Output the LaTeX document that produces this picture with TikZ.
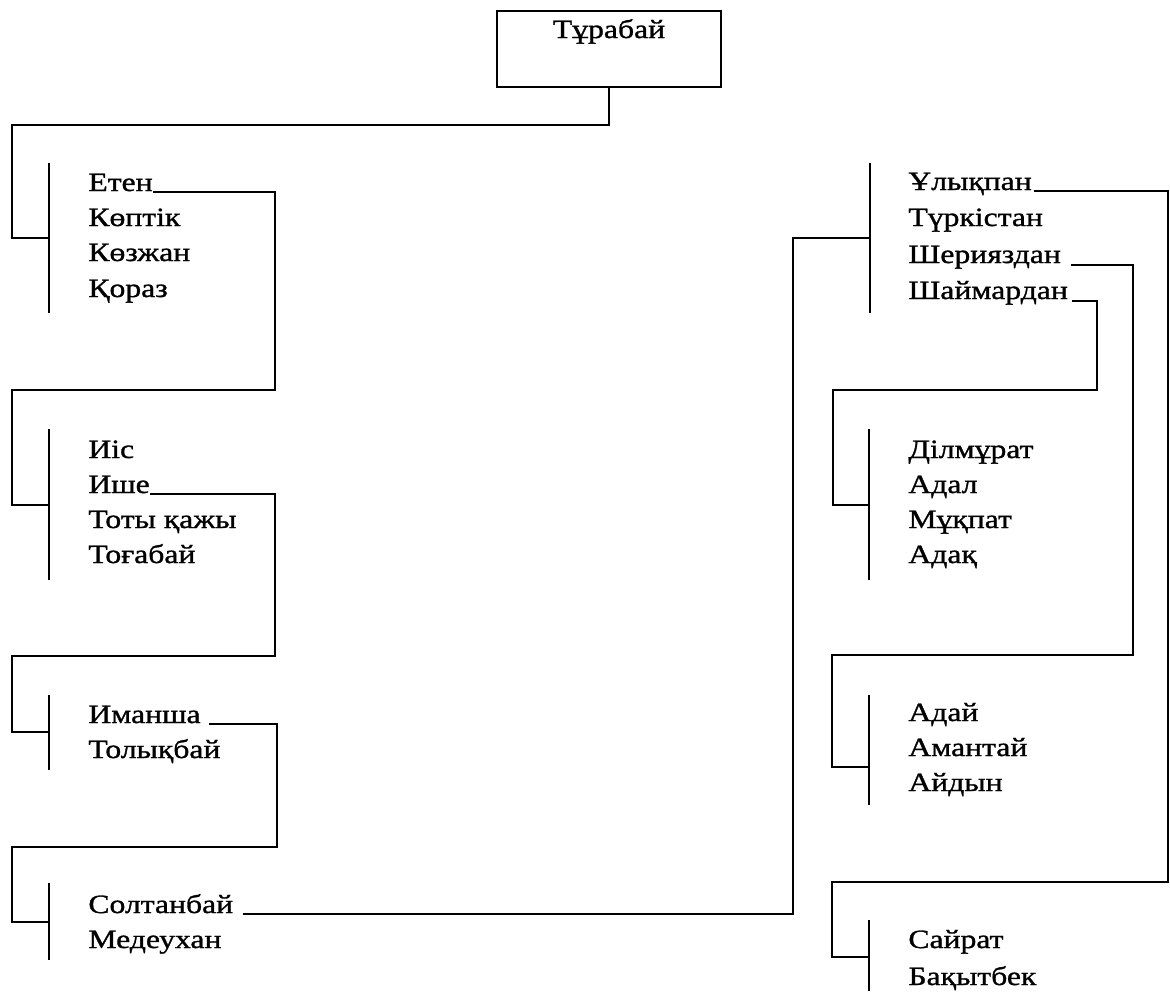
\documentclass[tikz,border=0pt]{standalone}
\usepackage{fontspec}
\setmainfont{Liberation Serif}[FakeStretch=1.2,FakeBold=1.1]
\newcommand{\namefont}{\fontsize{13.2pt}{15pt}\selectfont}
\begin{document}
\begin{tikzpicture}[x=0.5pt,y=-0.5pt,
  person/.style={anchor=base west, inner sep=0pt, font=\namefont},
  rootbox/.style={draw, line width=1.2pt, inner sep=0pt, anchor=base, text height=13.5pt, text depth=24.5pt, minimum width=112pt, font=\namefont},
  link/.style={line width=1.3pt, line join=miter},
  brace/.style={line width=1pt}]
\useasboundingbox (0,0) rectangle (1170,991);

% root
\node[rootbox] (root) at (609,38) {Тұрабай};

% bracket coordinates
\foreach \n/\x/\t/\b/\j in {b1/49/163/313/238, b2/49/429/580/505, b3/49/695/770/732, b4/49/883/960/922,
                            b5/870/163/313/238, b6/869/429/580/505, b7/869/695/805/767, b8/869/920/991/957} {
  \coordinate (\n t) at (\x,\t);
  \coordinate (\n b) at (\x,\b);
  \coordinate (\n j) at (\x,\j);
}
\foreach \n in {b1,b2,b3,b4,b5,b6,b7,b8} { \draw[brace] (\n t) -- (\n b); }

% left names
\node[person] (eten)   at (88,191) {Етен};
\node[person] (koptik) at (88,226) {Көптік};
\node[person] (kozhan) at (88,261) {Көзжан};
\node[person] (koraz)  at (88,297) {Қораз};

\node[person] (iis)    at (88,458) {Иіс};
\node[person] (ishe)   at (88,493) {Ише};
\node[person] (toty)   at (88,528) {Тоты қажы};
\node[person] (togabai) at (88,563) {Тоғабай};

\node[person] (imansha) at (88,723) {Иманша};
\node[person] (tolyk)   at (88,758) {Толықбай};

\node[person] (soltan)  at (88,913) {Солтанбай};
\node[person] (medeu)   at (88,948) {Медеухан};

% right names
\node[person] (ulyk)    at (908,190) {Ұлықпан};
\node[person] (turk)    at (908,226) {Түркістан};
\node[person] (sheri)   at (908,263) {Шерияздан};
\node[person] (shaim)   at (908,299) {Шаймардан};

\node[person] (dilm)    at (908,458) {Ділмұрат};
\node[person] (adal)    at (908,493) {Адал};
\node[person] (mukpat)  at (908,528) {Мұқпат};
\node[person] (adak)    at (908,563) {Адақ};

\node[person] (adai)    at (908,721) {Адай};
\node[person] (amantai) at (908,756) {Амантай};
\node[person] (aidyn)   at (908,791) {Айдын};

\node[person] (sairat)  at (908,948) {Сайрат};
\node[person] (bakyt)   at (908,985) {Бақытбек};

% connectors
\draw[link] (root.south) |- (12,125) |- (b1j);
\draw[link] ([yshift=-0.5pt]eten.base east) -| (275,390) -- (12,390) |- (b2j);
\draw[link] ([yshift=-0.5pt]ishe.base east) -| (275,656) -- (12,656) |- (b3j);
\draw[link] ([xshift=4pt,yshift=-0.5pt]imansha.base east) -| (277,847) -- (12,847) |- (b4j);
\draw[link] ([xshift=4.5pt,yshift=-0.5pt]soltan.base east) -| (793,238) -- (b5j);
\draw[link] ([xshift=1pt,yshift=-0.5pt]ulyk.base east) -| (1168,882) -- (832,882) |- (b8j);
\draw[link] ([xshift=5pt,yshift=-1pt]sheri.base east) -| (1133,655) -- (832,655) |- (b7j);
\draw[link] ([xshift=2pt,yshift=-1pt]shaim.base east) -| (1097,390) -- (833,390) |- (b6j);
\end{tikzpicture}
\end{document}
